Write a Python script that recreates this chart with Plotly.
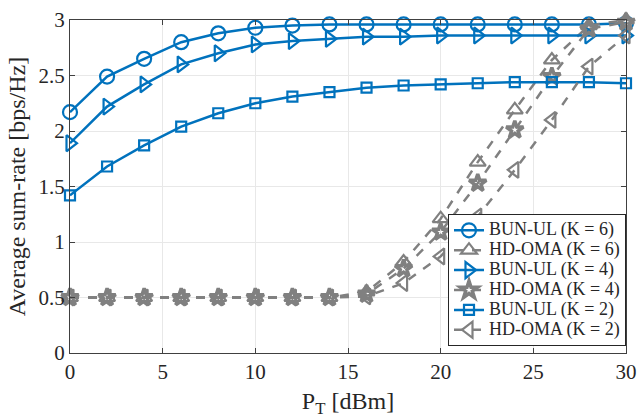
import plotly.graph_objects as go

x = [0, 2, 4, 6, 8, 10, 12, 14, 16, 18, 20, 22, 24, 26, 28, 30]

bun_k6 = [2.17, 2.49, 2.65, 2.80, 2.88, 2.93, 2.95, 2.96, 2.96, 2.96, 2.96, 2.96, 2.96, 2.96, 2.96, 2.97]
hd_k6 = [0.5, 0.5, 0.5, 0.5, 0.5, 0.5, 0.5, 0.5, 0.55, 0.82, 1.21, 1.72, 2.19, 2.64, 2.95, 3.0]
bun_k4 = [1.89, 2.22, 2.42, 2.60, 2.70, 2.78, 2.81, 2.83, 2.85, 2.85, 2.86, 2.86, 2.86, 2.86, 2.86, 2.86]
hd_k4 = [0.5, 0.5, 0.5, 0.5, 0.5, 0.5, 0.5, 0.5, 0.53, 0.76, 1.09, 1.53, 2.01, 2.49, 2.92, 2.98]
bun_k2 = [1.42, 1.68, 1.87, 2.04, 2.16, 2.25, 2.31, 2.35, 2.39, 2.41, 2.42, 2.43, 2.44, 2.44, 2.44, 2.43]
hd_k2 = [0.5, 0.5, 0.5, 0.5, 0.5, 0.5, 0.5, 0.5, 0.51, 0.63, 0.87, 1.23, 1.65, 2.10, 2.58, 2.86]

names = ["BUN-UL (K = 6)", "HD-OMA (K = 6)", "BUN-UL (K = 4)",
         "HD-OMA (K = 4)", "BUN-UL (K = 2)", "HD-OMA (K = 2)"]
series = [bun_k6, hd_k6, bun_k4, hd_k4, bun_k2, hd_k2]

BLUE = "#0072BD"
GRAY = "#808080"
styles = [
    dict(color=BLUE, dash="solid", symbol="circle-open", size=14, lw=2.2),
    dict(color=GRAY, dash="dash", symbol="triangle-up-open", size=14, lw=2.2),
    dict(color=BLUE, dash="solid", symbol="triangle-right-open", size=14, lw=2.2),
    dict(color=GRAY, dash="dash", symbol="star-open", size=13, lw=3.5),
    dict(color=BLUE, dash="solid", symbol="square-open", size=10, lw=2.2),
    dict(color=GRAY, dash="dash", symbol="triangle-left-open", size=14, lw=2.2),
]

FONT = "Liberation Serif, Times New Roman, serif"

fig = go.Figure()
for name, y, st in zip(names, series, styles):
    fig.add_trace(go.Scatter(
        x=x, y=y, name='<span style="font-size:18px">' + name + '</span>',
        mode="lines+markers", cliponaxis=False,
        line=dict(color=st["color"], width=2.5, dash=st["dash"]),
        marker=dict(symbol=st["symbol"], size=st["size"], color=st["color"],
                    line=dict(color=st["color"], width=st["lw"])),
    ))

axis_common = dict(
    showline=True, linecolor="#404040", linewidth=1.2, mirror="ticks",
    ticks="inside", ticklen=5, tickcolor="#404040",
    showgrid=True, gridcolor="#e8e8e8", gridwidth=1, zeroline=False,
    tickfont=dict(family=FONT, size=21, color="#262626"),
)

fig.update_xaxes(range=[0, 30], tickvals=[0, 5, 10, 15, 20, 25, 30],
                 title=dict(text="P<sub>T</sub> [dBm]", standoff=8,
                            font=dict(family=FONT, size=24, color="#262626")),
                 **axis_common)
fig.update_yaxes(range=[0, 3], tickvals=[0, 0.5, 1, 1.5, 2, 2.5, 3],
                 ticktext=["0", "0.5", "1", "1.5", "2", "2.5", "3"],
                 title=dict(text="Average sum-rate [bps/Hz]", standoff=6,
                            font=dict(family=FONT, size=24, color="#262626")),
                 **axis_common)

fig.update_layout(
    width=639, height=418,
    margin=dict(l=70, r=13, t=20, b=65, autoexpand=False),
    paper_bgcolor="white", plot_bgcolor="white",
    font=dict(family=FONT, color="#262626"),
    legend=dict(x=1, xanchor="right", y=0.02, yanchor="bottom",
                bgcolor="white", bordercolor="#262626", borderwidth=1,
                font=dict(family=FONT, size=13, color="#262626"),
                tracegroupgap=0, itemwidth=30),
    showlegend=True,
)

fig.write_html("out.html")
